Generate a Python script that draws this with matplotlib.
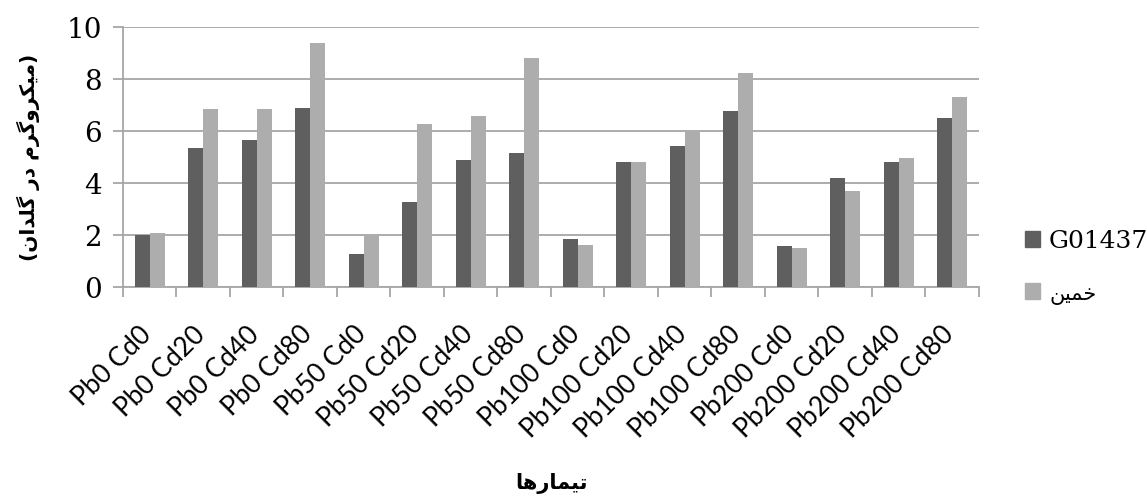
import numpy as np
import matplotlib
matplotlib.use("Agg")
import matplotlib.pyplot as plt
from matplotlib.patches import Patch
from matplotlib.transforms import ScaledTranslation

# ---- datos ----
tratamientos = ['Pb0 Cd0', 'Pb0 Cd20', 'Pb0 Cd40', 'Pb0 Cd80',
                'Pb50 Cd0', 'Pb50 Cd20', 'Pb50 Cd40', 'Pb50 Cd80',
                'Pb100 Cd0', 'Pb100 Cd20', 'Pb100 Cd40', 'Pb100 Cd80',
                'Pb200 Cd0', 'Pb200 Cd20', 'Pb200 Cd40', 'Pb200 Cd80']
g01437 = [2.0, 5.36, 5.64, 6.90, 1.27, 3.27, 4.87, 5.15,
          1.85, 4.79, 5.44, 6.78, 1.56, 4.19, 4.79, 6.49]
khomein = [2.08, 6.83, 6.83, 9.38, 1.99, 6.27, 6.56, 8.81,
           1.63, 4.79, 5.96, 8.24, 1.50, 3.69, 4.95, 7.32]
serie1 = 'G01437'
serie2 = 'خمین'
etiqueta_y = '(میکروگرم در گلدان)'
etiqueta_x = 'تیمارها'

# formas de presentacion arabes: (aislada, final, inicial, media)
FORMAS = {
    'ا': ('\uFE8D', '\uFE8E', None, None),
    'ت': ('\uFE95', '\uFE96', '\uFE97', '\uFE98'),
    'خ': ('\uFEA5', '\uFEA6', '\uFEA7', '\uFEA8'),
    'د': ('\uFEA9', '\uFEAA', None, None),
    'ر': ('\uFEAD', '\uFEAE', None, None),
    'ل': ('\uFEDD', '\uFEDE', '\uFEDF', '\uFEE0'),
    'م': ('\uFEE1', '\uFEE2', '\uFEE3', '\uFEE4'),
    'ن': ('\uFEE5', '\uFEE6', '\uFEE7', '\uFEE8'),
    'ه': ('\uFEE9', '\uFEEA', '\uFEEB', '\uFEEC'),
    'و': ('\uFEED', '\uFEEE', None, None),
    'ک': ('\uFB8E', '\uFB8F', '\uFB90', '\uFB91'),
    'گ': ('\uFB92', '\uFB93', '\uFB94', '\uFB95'),
    'ی': ('\uFBFC', '\uFBFD', '\uFBFE', '\uFBFF'),
}

def une_izq(c):  # puede unirse con la letra siguiente
    return c in FORMAS and FORMAS[c][2] is not None

def rtl(texto):
    # matplotlib no da forma al arabe: lo hacemos a mano y lo invertimos
    salida = []
    for i, c in enumerate(texto):
        if c not in FORMAS:
            salida.append({'(': ')', ')': '('}.get(c, c))
            continue
        prev = texto[i - 1] if i > 0 else ' '
        nxt = texto[i + 1] if i + 1 < len(texto) else ' '
        con_prev = une_izq(prev)
        con_next = une_izq(c) and nxt in FORMAS
        if con_prev and con_next:
            salida.append(FORMAS[c][3])
        elif con_prev:
            salida.append(FORMAS[c][1])
        elif con_next:
            salida.append(FORMAS[c][2])
        else:
            salida.append(FORMAS[c][0])
    return ''.join(reversed(salida))

oscuro = '#5f5f5f'
claro = '#adadad'
gris = '#a6a6a6'

fig = plt.figure(figsize=(11.47, 4.97), dpi=100)
ax = fig.add_axes([0.1072, 0.4225, 0.7463, 0.5231])

x = np.arange(len(tratamientos))
w = 0.28
ax.bar(x - w / 2, g01437, w, color=oscuro, zorder=3)
ax.bar(x + w / 2, khomein, w, color=claro, zorder=3)

ax.set_xlim(-0.5, len(tratamientos) - 0.5)
ax.set_ylim(0, 10)
ax.set_yticks(np.arange(0, 11, 2))
ax.yaxis.grid(True, color=gris, linewidth=1.3, zorder=0)

for lado in ['top', 'right']:
    ax.spines[lado].set_visible(False)
for lado in ['left', 'bottom']:
    ax.spines[lado].set_color(gris)
    ax.spines[lado].set_linewidth(1.3)

# marcas entre categorias, etiquetas al centro
ax.set_xticks(x)
ax.set_xticks(np.arange(-0.5, len(tratamientos), 1), minor=True)
ax.tick_params(axis='x', which='major', length=0, pad=25)
ax.tick_params(axis='x', which='minor', length=7, width=1.3, color=gris)
ax.set_xticklabels(tratamientos, rotation=45, ha='right')
desplaza = ScaledTranslation(7 / 100, 0, fig.dpi_scale_trans)
for lab in ax.get_xticklabels():
    lab.set_fontfamily(['Lato', 'DejaVu Sans'])
    lab.set_fontsize(19)
    lab.set_transform(lab.get_transform() + desplaza)

ax.tick_params(axis='y', length=7, width=1.3, color=gris, pad=8)
for lab in ax.get_yticklabels():
    lab.set_fontfamily('DejaVu Serif')
    lab.set_fontsize(20)

ax.set_ylabel(rtl(etiqueta_y), fontsize=14.5, fontweight='bold',
              fontfamily='DejaVu Sans')
ax.yaxis.set_label_coords(-0.111, 0.5)
ax.yaxis.label.set_va('center')
ax.set_xlabel(rtl(etiqueta_x), fontsize=15, fontweight='bold',
              fontfamily='DejaVu Sans')
ax.xaxis.set_label_coords(0.5, -0.715)

manejadores = [Patch(color=oscuro), Patch(color=claro)]
leg = fig.legend(manejadores, [serie1, rtl(serie2)], loc='center left',
                 bbox_to_anchor=(0.8937, 0.4618), frameon=False,
                 borderpad=0, borderaxespad=0, handlelength=0.6,
                 handleheight=0.6, handletextpad=0.36, labelspacing=1.2,
                 fontsize=18)
textos = leg.get_texts()
textos[0].set_fontfamily('DejaVu Serif')
textos[1].set_fontfamily('DejaVu Sans')
textos[1].set_fontsize(15)

fig.savefig('out.png', dpi=100)
